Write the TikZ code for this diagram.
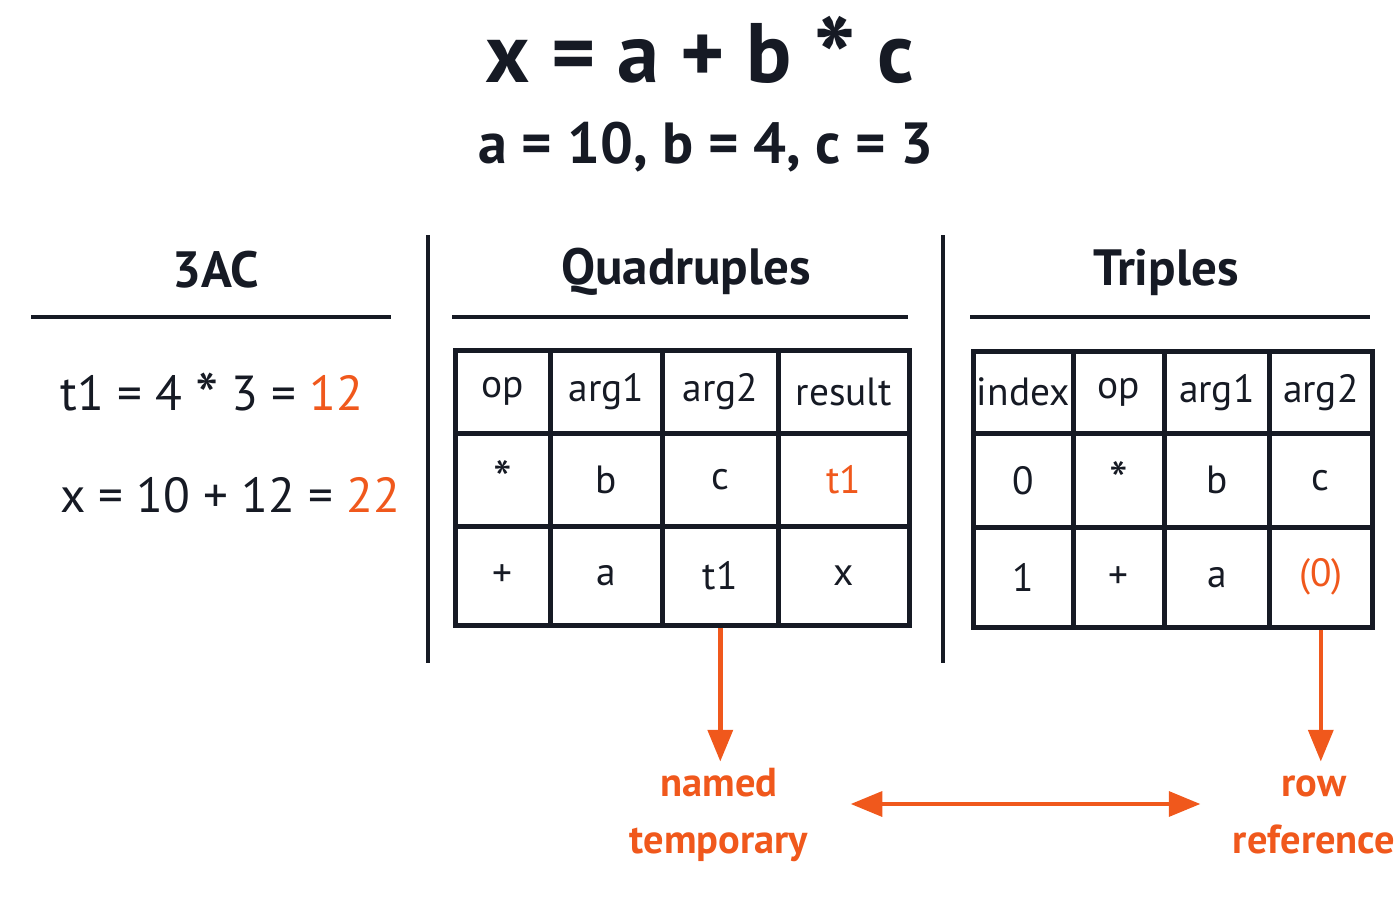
\documentclass[tikz,border=0pt]{standalone}
\usepackage{fontspec}
\setmainfont{PT Sans}
\usepackage{xcolor}
\usetikzlibrary{positioning, arrows.meta}
\definecolor{accent}{RGB}{240,88,28}
\definecolor{ink}{RGB}{22,26,36}
\newcommand\opstar{\raisebox{-0.4ex}{\scalebox{1.35}{*}}}

\begin{document}
\begin{tikzpicture}[x=0.01cm, y=-0.01cm, every node/.style={text=ink},
    cell/.style={draw=ink, line width=1.3pt, anchor=north west, inner sep=0pt, font=\fontsize{11.2}{14}\selectfont},
    heading/.style={font=\bfseries\fontsize{14.5}{18}\selectfont},
    rule/.style={ink, line width=1.3pt},
    note/.style={text=accent, align=center, font=\bfseries\fontsize{11.5}{14}\selectfont},
    arrow/.style={-{Triangle[width=7pt,length=9pt]}, accent, line width=1.3pt}]

    \useasboundingbox (0,0) rectangle (1400,900);

    % Title
    \node[font=\bfseries\fontsize{24}{28}\selectfont] (title) at (700,58) {x = a + b \opstar{} c};
    \node[font=\bfseries\fontsize{16.5}{20}\selectfont] (values) at (706,147) {a = 10, b = 4, c = 3};

    % Headings and rules
    \node[heading] (h3ac) at (216,270) {3AC};
    \node[heading] (hquad) at (686,272) {Quadruples};
    \node[heading] (htrip) at (1166,272) {Triples};
    \draw[rule] (31,317) -- (391,317);
    \draw[rule] (452,317) -- (908,317);
    \draw[rule] (970,317) -- (1370,317);
    \draw[rule] (428,235) -- (428,663);
    \draw[rule] (943,235) -- (943,663);

    % 3AC
    \node[anchor=west, font=\fontsize{14}{18}\selectfont] (l1) at (48,397) {t1 = 4 \opstar{} 3 = \textcolor{accent}{12}};
    \node[anchor=west, font=\fontsize{14}{18}\selectfont] (l2) at (48,495) {x = 10 + 12 = \textcolor{accent}{22}};

    % Quadruples
    \foreach \r/\y/\h/\a/\b/\c/\d in {1/348/83/op/arg1/arg2/result, 2/431/93/\opstar/b/c/\textcolor{accent}{t1}, 3/524/99/+/a/t1/x}
        \foreach \k/\x/\w/\t in {1/453/95/\a, 2/548/112/\b, 3/660/116/\c, 4/776/131/\d}
            \node[cell, minimum width={\w*0.01cm}, minimum height={\h*0.01cm}] (q-\r-\k) at (\x,\y) {\t};

    % Triples
    \foreach \r/\y/\h/\a/\b/\c/\d in {1/349/82/index/op/arg1/arg2, 2/431/94/0/\opstar/b/c, 3/525/100/1/+/a/\textcolor{accent}{(0)}}
        \foreach \k/\x/\w/\t in {1/971/100/\a, 2/1071/91/\b, 3/1162/105/\c, 4/1267/103/\d}
            \node[cell, minimum width={\w*0.01cm}, minimum height={\h*0.01cm}] (t-\r-\k) at (\x,\y) {\t};

    % Notes
    \node[note] (named) at (719,815) {named\\[2pt]temporary};
    \node[note] (rowref) at (1314,815) {row\\[2pt]reference};

    \draw[arrow] (q-3-3.south) -- ++(0,134);
    \draw[arrow] (t-3-4.south) -- ++(0,132);
    \draw[accent, line width=1.3pt, {Triangle[width=7pt,length=9pt]}-{Triangle[width=7pt,length=9pt]}] ([xshift=0.3cm,yshift=0.11cm]named.east) -- ([xshift=-0.2cm,yshift=0.11cm]rowref.west);

\end{tikzpicture}
\end{document}
